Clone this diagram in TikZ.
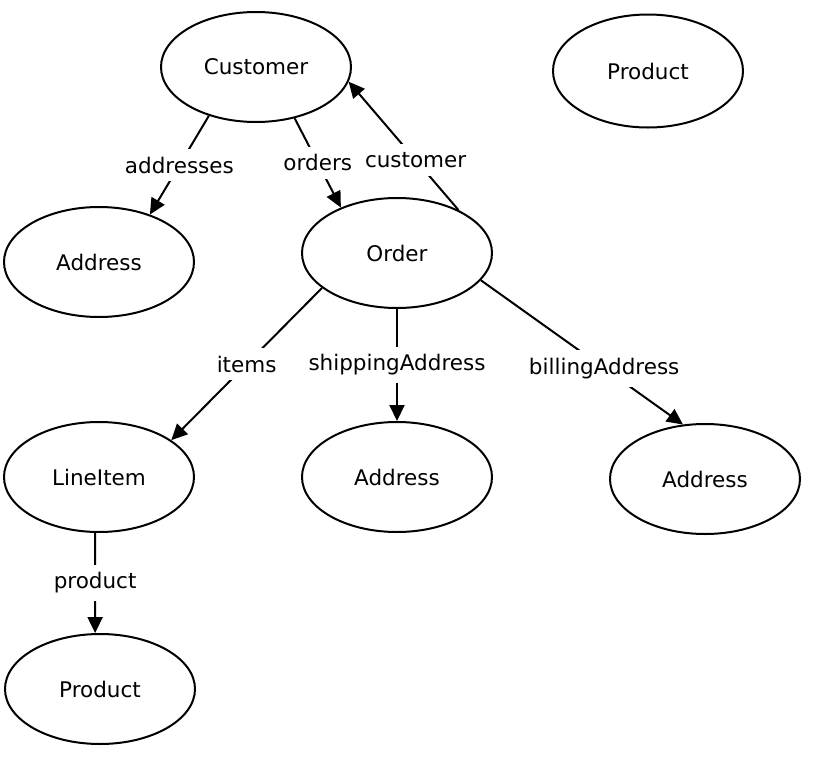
\documentclass[tikz,border=0pt]{standalone}
\usepackage{fontspec}
\setmainfont{DejaVu Sans}
\usetikzlibrary{shapes.geometric,arrows.meta}
\begin{document}
\begin{tikzpicture}[x=1pt,y=-1pt,
  ent/.style={draw,ellipse,line width=2pt,minimum width=190pt,minimum height=110pt,inner sep=0pt,font=\fontsize{21.5}{24}\selectfont},
  rel/.style={draw,line width=2pt,-{Triangle[length=16pt,width=15pt]}},
  lbl/.style={fill=white,inner xsep=4pt,inner ysep=8pt,font=\fontsize{21.5}{24}\selectfont}]
\useasboundingbox (0,0) rectangle (823,761);
\node[ent] (cust) at (256,67) {Customer};
\node[ent,minimum height=113pt] (prodT) at (648,71) {Product};
\node[ent] (addrL) at (99,262) {Address};
\node[ent] (order) at (397,253) {Order};
\node[ent] (item) at (99,477) {LineItem};
\node[ent] (addrM) at (397,477) {Address};
\node[ent] (addrR) at (705,479) {Address};
\node[ent] (prodB) at (100,689) {Product};

\draw[rel] (cust.226) -- node[lbl,pos=.5] (l1) {addresses} (addrL.43);
\draw[rel] (cust.307) -- node[lbl,pos=.5] (l2) {orders} (order.141);
\draw[rel] (order.35) -- node[lbl,pos=.39] (l3) {customer} (cust.351);
\draw[rel] (order.205) -- node[lbl,pos=.5] (l4) {items} (item.27);
\draw[rel] (order.270) -- node[lbl,pos=.5] (l5) {shippingAddress} (addrM.90);
\draw[rel] (order.342) -- node[lbl,pos=.61] (l6) {billingAddress} (addrR.112);
\draw[rel] (item.266) -- node[lbl,pos=.5] (l7) {product} (prodB.95);
\end{tikzpicture}
\end{document}
